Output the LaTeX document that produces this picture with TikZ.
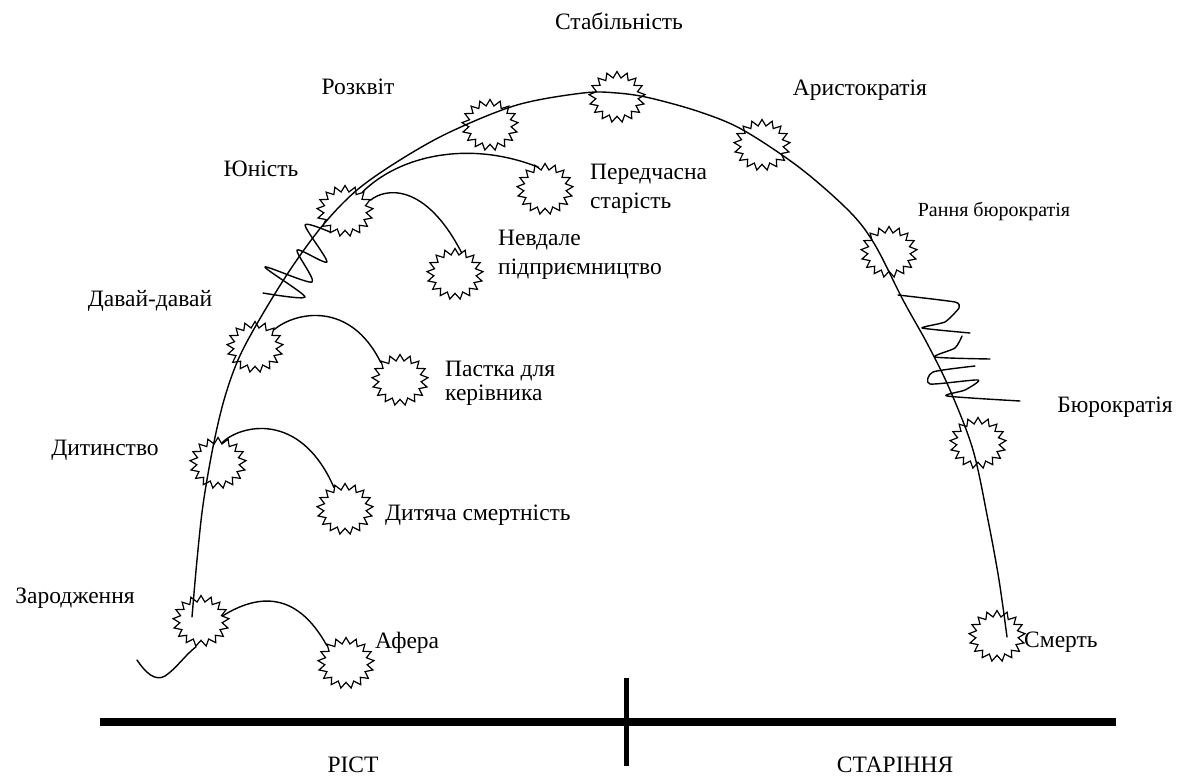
\documentclass[tikz,border=0pt]{standalone}
\usepackage{fontspec}
\setmainfont{Liberation Serif}
\newfontfamily\tnr{Liberation Serif}
\usetikzlibrary{shapes.geometric}
\begin{document}
\begin{tikzpicture}[x=1pt,y=-1pt,
  curve/.style={line width=1.4pt, line cap=round, line join=round},
  burst/.style={star, star points=17, star point ratio=1.32, draw, line width=1.2pt,
     inner sep=0pt, minimum size=51pt, xscale=1.1},
  lbl/.style={font=\tnr\fontsize{23.5}{27}\selectfont, inner sep=0pt, anchor=base},
  lblw/.style={lbl, anchor=base west},
  small/.style={font=\tnr\fontsize{20}{23}\selectfont, inner sep=0pt, anchor=base}]
\useasboundingbox (0,0) rectangle (1183,778);

% stars
\node[burst] (zar) at (201,621) {};
\node[burst] (afera) at (346,663) {};
\node[burst] (dyt) at (218,463) {};
\node[burst] (dsm) at (345,509) {};
\node[burst] (dd) at (255,347) {};
\node[burst] (pk) at (400,380) {};
\node[burst] (yun) at (345,211) {};
\node[burst] (nev) at (455,274) {};
\node[burst] (rozk) at (490,125) {};
\node[burst] (per) at (545,189) {};
\node[burst] (stab) at (617,97) {};
\node[burst] (arys) at (762,145) {};
\node[burst] (rb) at (889,252) {};
\node[burst] (bur) at (978,443) {};
\node[burst] (smert) at (997,636) {};

% main arc
\coordinate (arcS) at (192,617);
\coordinate (arcE) at (1007,637);
\draw[curve] plot[smooth, tension=0.55] coordinates {(arcS) (197,560) (203,505) (213,447) (224,400) (238,360) (258,322) (290,270) (323,225) (357,190) (400,160) (450,132) (517,105) (583,93) (617,93) (650,98) (700,112) (743,130) (800,168) (850,212) (875,245) (903,300) (928,345) (950,390) (973,450) (988,520) (999,580) (arcE)};

% tail at start
\coordinate (tail) at (137,660);
\draw[curve] (tail) .. controls (145,672) and (155,682) .. (165,676) .. controls (177,668) and (185,655) .. (zar.-100);

% branches
\draw[curve] (zar.15) .. controls (255,596) and (295,588) .. (afera.135);
\draw[curve] (dyt.80) .. controls (240,425) and (300,410) .. (dsm.115);
\draw[curve] (dd.45) .. controls (295,312) and (350,300) .. (pk.135);
\draw[curve] (yun.25) .. controls (385,188) and (425,182) .. (nev.75);
\draw[curve] (yun.50) .. controls (400,155) and (470,140) .. (per.105);

% zigzag (Давай-давай)
\draw[curve] plot[smooth, tension=0.45] coordinates {(263,293) (305,297) (265,267) (312,282) (297,250) (327,262) (305,225) (330,232)};

% zigzag (Бюрократія)
\draw[curve] plot[smooth, tension=0.3] coordinates {(898,295) (955,302) (959,308) (945,322) (922,328) (970,333)};
\draw[curve] plot[smooth, tension=0.4] coordinates {(962,336) (955,348) (935,357) (990,359)};
\draw[curve] plot[smooth, tension=0.4] coordinates {(975,366) (933,372) (930,384) (978,380) (965,390) (947,396) (1020,401)};

% axis
\coordinate (axL) at (100,722);
\coordinate (axR) at (1116,722);
\coordinate (axT) at (626,678);
\coordinate (axB) at (626,766);
\draw[line width=8pt] (axL) -- (axR);
\draw[line width=5pt] (axT) -- (axB);

% labels
\node[lbl] (tstab) at (619,30) {Стабільність};
\node[lbl] (trozk) at (358,95) {Розквіт};
\node[lbl] (tarys) at (860,96) {Аристократія};
\node[lbl] (tyun) at (261,177) {Юність};
\node[lblw] (tper1) at (590,180) {Передчасна};
\node[lblw] (tper2) at (590,208) {старість};
\node[small] (trb) at (994,217) {Рання бюрократія};
\node[lblw] (tnev1) at (498,245) {Невдале};
\node[lblw] (tnev2) at (498,274) {підприємництво};
\node[lbl] (tdd) at (150,306) {Давай-давай};
\node[lblw] (tpk1) at (445,376) {Пастка для};
\node[lblw] (tpk2) at (445,400) {керівника};
\node[lbl] (tbur) at (1115,412) {Бюрократія};
\node[lbl] (tdyt) at (105,455) {Дитинство};
\node[lblw] (tdsm) at (385,520) {Дитяча смертність};
\node[lbl] (tzar) at (75,603) {Зародження};
\node[lblw] (taf) at (375,648) {Афера};
\node[lblw] (tsm) at (1024,647) {Смерть};
\node[lbl] (trist) at (353,772) {РІСТ};
\node[lbl] (tstar) at (895,772) {СТАРІННЯ};
\end{tikzpicture}
\end{document}
